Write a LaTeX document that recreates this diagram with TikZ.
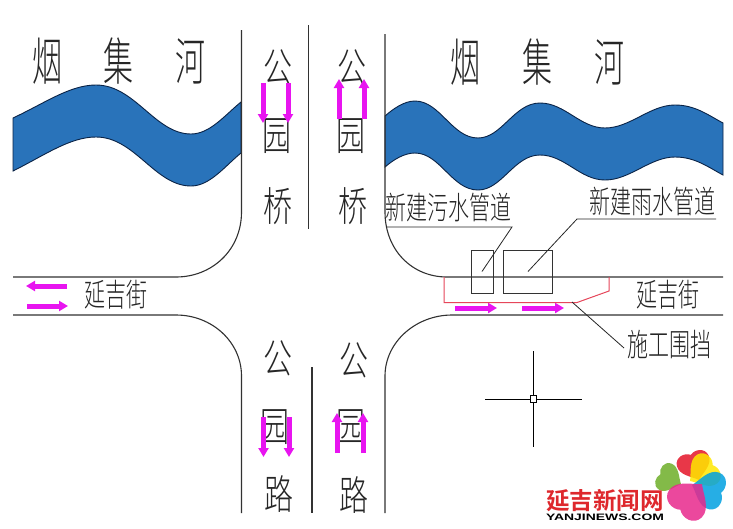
\documentclass[tikz,border=0pt]{standalone}
\usepackage{fontspec}
\setmainfont{Liberation Sans}
\newfontfamily\cjk{Noto Sans CJK SC Light}
\newfontfamily\cjkbold{Noto Sans CJK SC Bold}
\usetikzlibrary{arrows.meta}
\definecolor{riverblue}{RGB}{41,115,186}
\definecolor{riveredge}{RGB}{10,35,70}
\definecolor{roadline}{RGB}{50,50,50}
\definecolor{arrowmag}{RGB}{232,20,240}
\definecolor{fencered}{RGB}{230,70,90}
\definecolor{logored}{RGB}{222,40,45}
\definecolor{heartgreen}{RGB}{110,175,40}
\definecolor{heartred}{RGB}{228,20,40}
\definecolor{heartyellow}{RGB}{255,232,0}
\definecolor{heartblue}{RGB}{0,160,225}
\definecolor{heartpink}{RGB}{232,40,140}
\newcommand{\bigzi}[1]{\scalebox{1}[1.7]{#1}}
\newcommand{\midzi}[1]{\scalebox{1}[1.4]{#1}}
\newcommand{\labzi}[1]{\scalebox{1}[1.5]{#1}}
\newcommand{\logoheart}[5]{%
  \begin{scope}[shift={(#1,#2)},rotate=#3,scale=#4]
    \fill[#5,opacity=.85] (0,0) .. controls (-6,-6) and (-20,-12) .. (-19,-23)
      .. controls (-18,-33) and (-6,-35) .. (0,-30)
      .. controls (6,-35) and (18,-33) .. (19,-23)
      .. controls (20,-12) and (6,-6) .. (0,0) -- cycle;
  \end{scope}}
\tikzset{
  road/.style={draw=roadline,line width=1.1pt},
  leader/.style={draw=black!85,line width=.8pt},
  river/.style={fill=riverblue,draw=riveredge,line width=.9pt},
  magarrow/.style={draw=arrowmag,line width=5pt,-{Triangle[length=9pt,width=10pt]}},
  bigch/.style={inner sep=0pt,text=black!85,font=\cjk\fontsize{30}{30}\selectfont},
  midch/.style={inner sep=0pt,text=black!85,font=\cjk\fontsize{29}{29}\selectfont},
  lab/.style={inner sep=0pt,text=black!85,font=\cjk\fontsize{21}{21}\selectfont},
  pipebox/.style={draw=black!80,line width=.9pt,fill=none,inner sep=0pt}
}
\begin{document}
\begin{tikzpicture}[x=1pt,y=-1pt]
\useasboundingbox (0,0) rectangle (733,528);
\fill[white] (0,0) rectangle (733,528);
% rivers
\path[river] (13,118) .. controls (45,103) and (70,85) .. (96,85)
  .. controls (135,85) and (155,134) .. (191,134)
  .. controls (210,134) and (225,115) .. (241,102)
  -- (241,153) .. controls (225,166) and (210,186) .. (191,186)
  .. controls (155,186) and (135,137) .. (96,137)
  .. controls (70,137) and (45,155) .. (13,171) -- cycle;
\path[river] (385,116) .. controls (393,109) and (404,101) .. (415,101)
  .. controls (440,101) and (452,138) .. (478,138)
  .. controls (502,138) and (514,103) .. (540,103)
  .. controls (565,103) and (580,128) .. (605,128)
  .. controls (630,128) and (650,105) .. (675,105)
  .. controls (695,105) and (708,115) .. (723,123)
  -- (723,175) .. controls (708,167) and (695,157) .. (675,157)
  .. controls (650,157) and (630,180) .. (605,180)
  .. controls (580,180) and (565,155) .. (540,155)
  .. controls (514,155) and (502,190) .. (478,190)
  .. controls (452,190) and (440,153) .. (415,153)
  .. controls (404,153) and (393,160) .. (385,167) -- cycle;
% roads
\draw[road] (241.5,30) -- (241.5,212) .. controls (241.5,250) and (212,277) .. (176,277) -- (13,277);
\draw[road] (13,315) -- (176,315) .. controls (212,315) and (241.5,342) .. (241.5,376) -- (241.5,513);
\draw[road] (308.7,25) -- (308.7,229);
\draw[road] (312,367) -- (312,513);
\draw[road] (385,34) -- (385,212) .. controls (385,250) and (412,277) .. (447,277) -- (723,277);
\draw[road] (723,315) -- (452,315) .. controls (416,315) and (385,342) .. (385,376) -- (385,513);
% titles
\node[bigch] (y1) at (47,61) {\bigzi{烟}};
\node[bigch] (j1) at (118,61) {\bigzi{集}};
\node[bigch] (h1) at (190,61) {\bigzi{河}};
\node[bigch] (y2) at (465,62) {\bigzi{烟}};
\node[bigch] (j2) at (537,62) {\bigzi{集}};
\node[bigch] (h2) at (609,62) {\bigzi{河}};
\node[midch] (ga) at (278,67) {\midzi{公}};
\node[midch] (yb) at (277,136) {\midzi{园}};
\node[midch] (qc) at (278,206) {\midzi{桥}};
\node[midch] (gd) at (352,67) {\midzi{公}};
\node[midch] (ye) at (351,136) {\midzi{园}};
\node[midch] (qf) at (353,206) {\midzi{桥}};
\node[midch] (gg) at (278,358) {\midzi{公}};
\node[midch] (yh) at (275,427) {\midzi{园}};
\node[midch] (li) at (279,494) {\midzi{路}};
\node[midch] (gj) at (354,360) {\midzi{公}};
\node[midch] (yk) at (351,427) {\midzi{园}};
\node[midch] (ll) at (354,495) {\midzi{路}};
\node[lab] (s1) at (116,295) {\labzi{延吉街}};
\node[lab] (s2) at (668,295) {\labzi{延吉街}};
\node[lab] (ws) at (448.5,208) {\labzi{新建污水管道}};
\node[lab] (ys) at (652,202) {\labzi{新建雨水管道}};
\node[lab] (wd) at (669,345) {\labzi{施工围挡}};
% magenta arrows
\coordinate (a1s) at (263,83); \coordinate (a1e) at (263,123);
\coordinate (a2s) at (288,83); \coordinate (a2e) at (288,123);
\coordinate (a3s) at (339,119); \coordinate (a3e) at (339,79);
\coordinate (a4s) at (364,119); \coordinate (a4e) at (364,79);
\coordinate (a5s) at (263.5,417); \coordinate (a5e) at (263.5,457);
\coordinate (a6s) at (289,417); \coordinate (a6e) at (289,457);
\coordinate (a7s) at (337,453); \coordinate (a7e) at (337,413);
\coordinate (a8s) at (363,453); \coordinate (a8e) at (363,413);
\coordinate (a9s) at (67,286); \coordinate (a9e) at (26,286);
\coordinate (a10s) at (27,306); \coordinate (a10e) at (68,306);
\coordinate (a11s) at (455,308); \coordinate (a11e) at (497,308);
\coordinate (a12s) at (522,308); \coordinate (a12e) at (564,308);
\foreach \n in {1,...,12} \draw[magarrow] (a\n s) -- (a\n e);
% pipes and fence
\node[pipebox,minimum width=22pt,minimum height=43pt] (pw) at (482,271.5) {};
\node[pipebox,minimum width=48.5pt,minimum height=43pt] (py) at (528,271.5) {};
\draw[draw=fencered,line width=1pt] (444,277) -- (444,302.5) -- (577,302.5) -- (609,291) -- (609,277);
\coordinate (w1) at (386,227); \coordinate (w2) at (512,227);
\coordinate (y1l) at (716,219); \coordinate (y2l) at (577,219);
\coordinate (f1) at (572,302); \coordinate (f2) at (624,348);
\draw[leader] (w1) -- (w2) -- (pw.center);
\draw[leader] (y1l) -- (y2l) -- (py.center);
\draw[leader] (f1) -- (f2);
% cad cursor
\node[draw=black,line width=1pt,fill=white,minimum size=6.5pt,inner sep=0pt] (cur) at (533.5,399) {};
\coordinate (cl) at (485,399); \coordinate (cr) at (582,399);
\coordinate (ct) at (533.5,351); \coordinate (cb) at (533.5,447);
\draw[line width=1pt] (cl) -- (cur) -- (cr);
\draw[line width=1pt] (ct) -- (cur) -- (cb);
% logo
\logoheart{681}{484}{65}{.76}{heartgreen}
\logoheart{699}{480}{18}{.88}{heartred}
\logoheart{690}{481}{-55}{.92}{heartyellow}
\logoheart{692}{485}{-105}{1.0}{heartblue}
\logoheart{702}{484}{140}{1.12}{heartpink}
\node[inner sep=0pt,text=logored,font=\cjkbold\fontsize{23.5}{23.5}\selectfont] (lt) at (605,501) {延吉新闻网};
\node[inner sep=0pt,font=\bfseries] (lu) at (605,517) {\resizebox{118pt}{6.5pt}{YANJINEWS.COM}};
\end{tikzpicture}
\end{document}
